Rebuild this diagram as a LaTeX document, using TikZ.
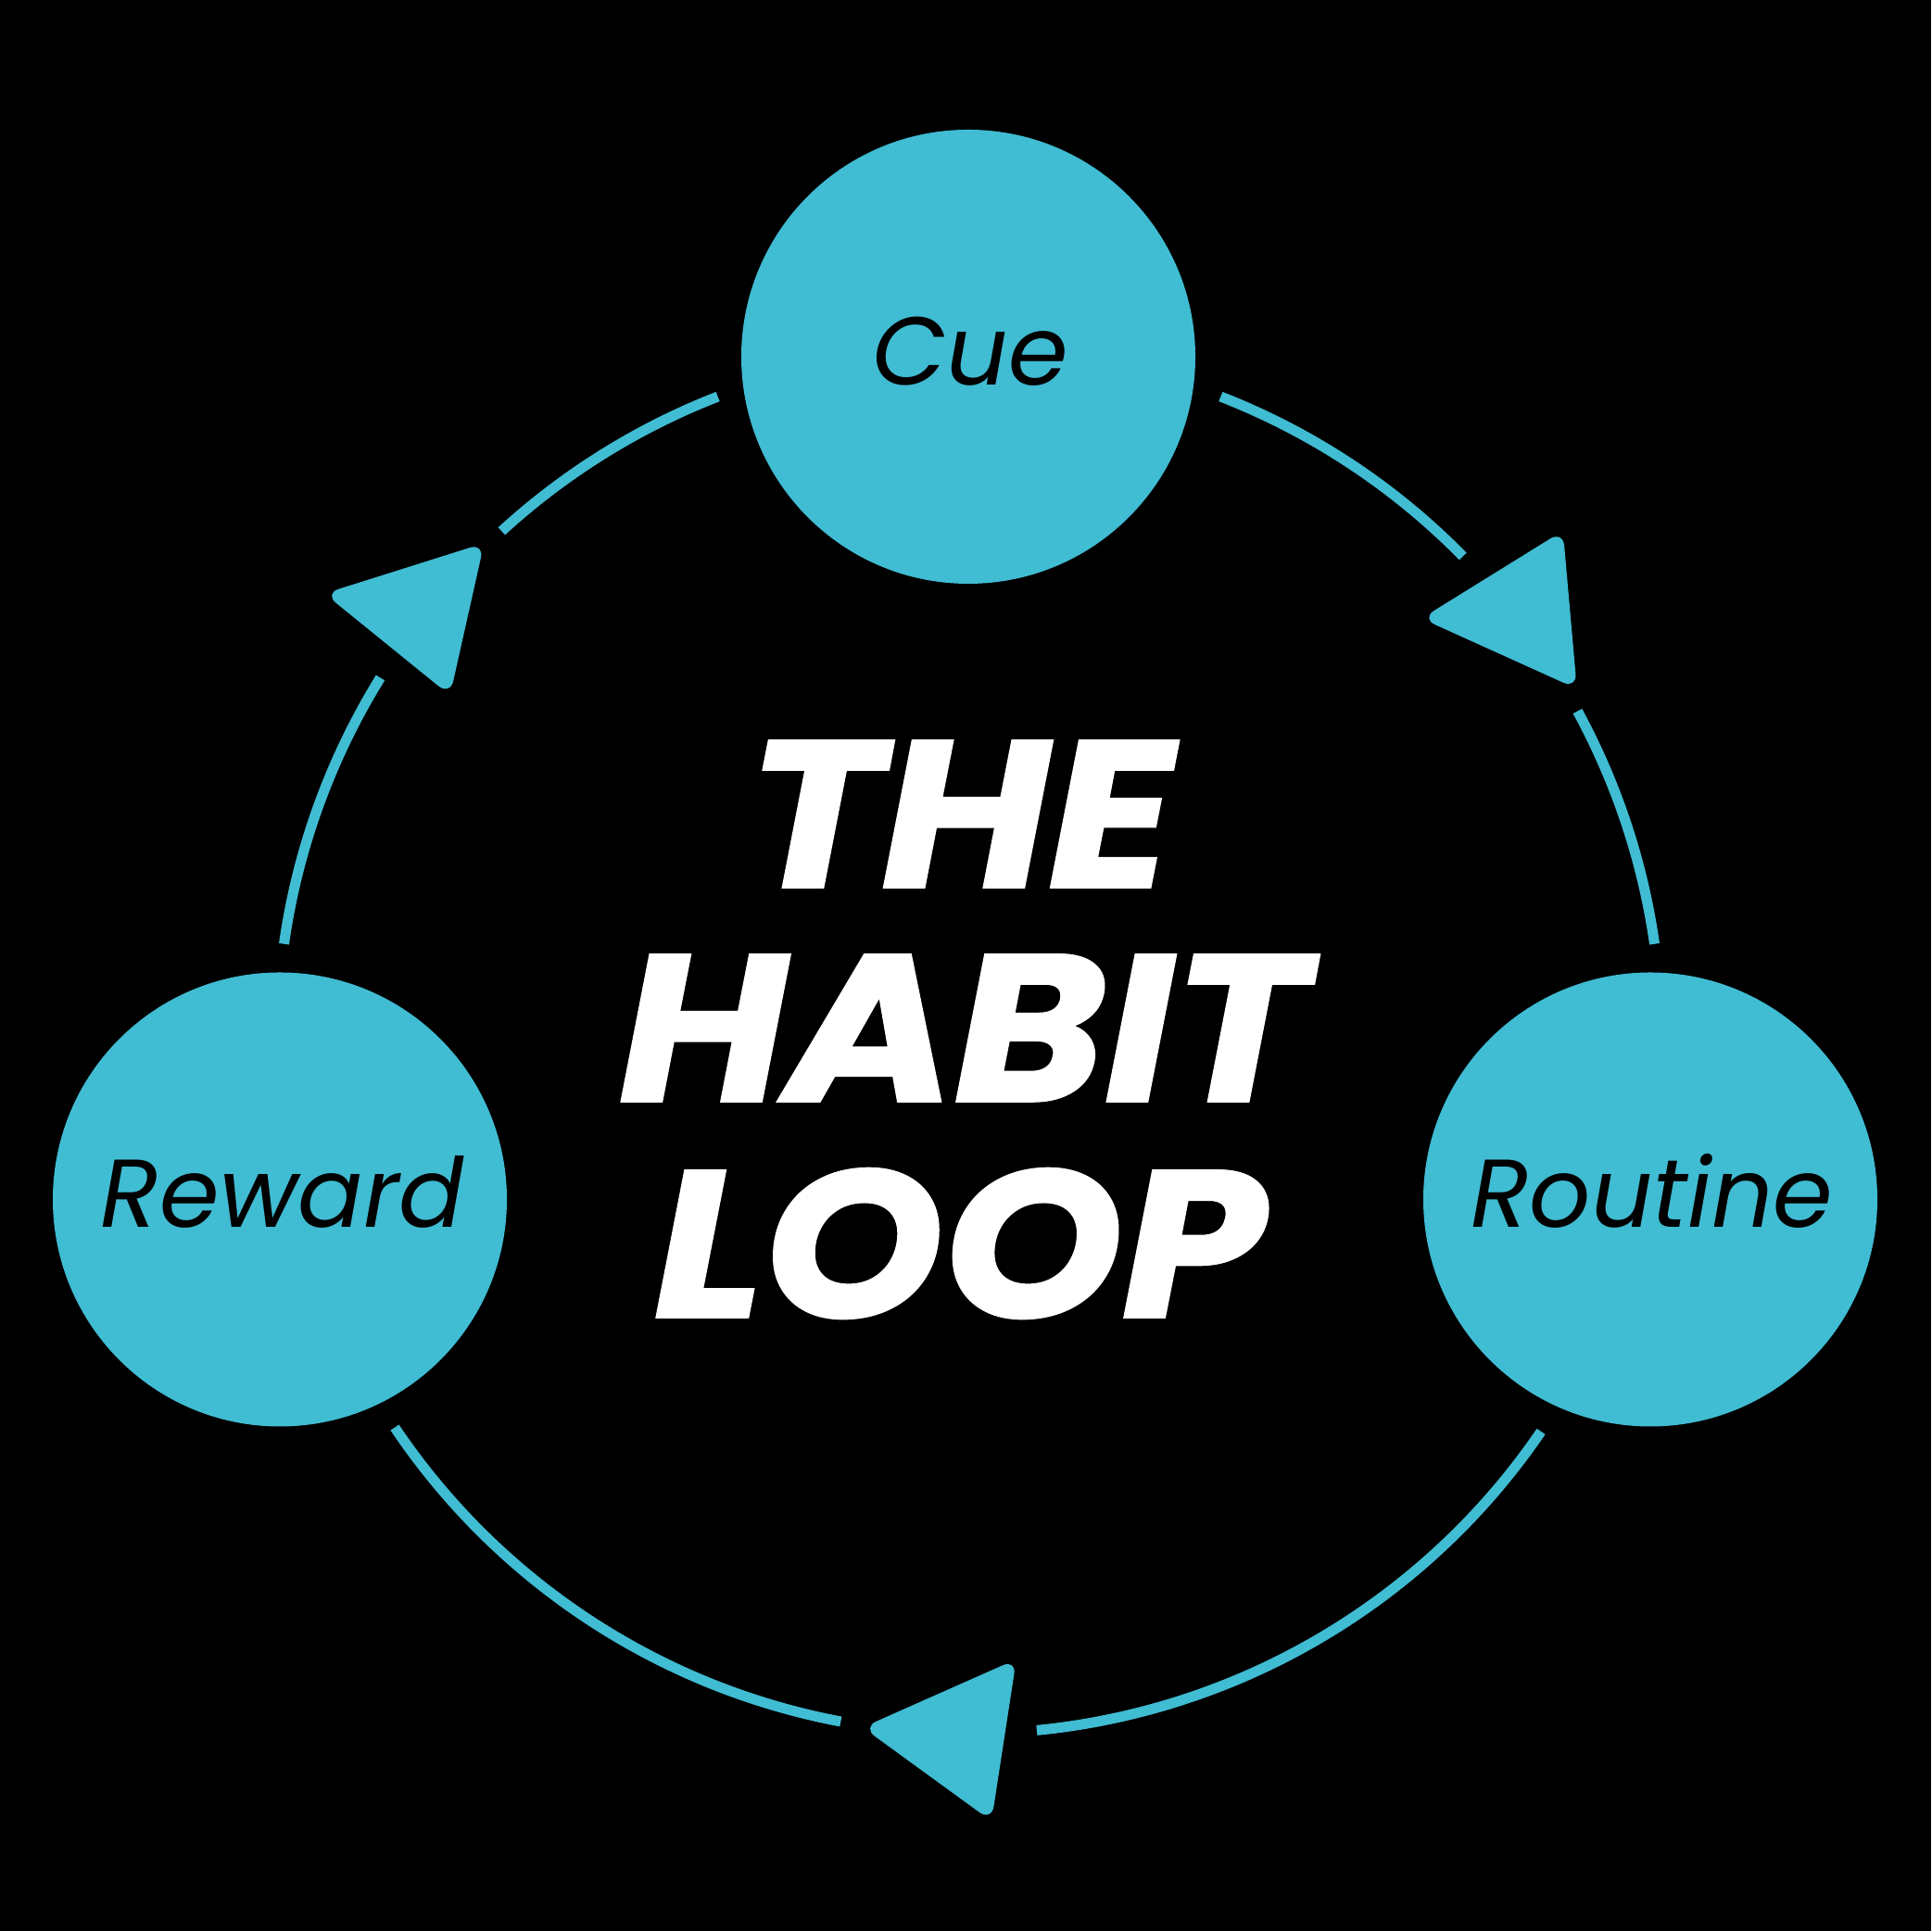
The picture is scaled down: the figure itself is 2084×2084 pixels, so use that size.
\documentclass[tikz,border=0pt]{standalone}
\usepackage{fontspec}
\setmainfont{Poppins}
\newfontfamily\titlefont[BoldItalicFeatures={FakeBold=1.6,FakeStretch=1.10}]{Poppins}
\usetikzlibrary{calc}
\definecolor{loopcyan}{RGB}{64,188,211}
\begin{document}
\begin{tikzpicture}[x=1pt,y=1pt,
  stage/.style={circle,fill=loopcyan,draw=none,minimum size=490pt,inner sep=0pt},
  lbl/.style={text=black,font=\fontsize{104}{110}\selectfont\itshape,inner sep=0pt,anchor=base},
  ttl/.style={text=white,font=\titlefont\fontsize{224}{230}\selectfont\bfseries\itshape,inner sep=0pt,anchor=base},
  looparc/.style={draw=loopcyan,line width=11pt},
  tip/.style={fill=loopcyan,rounded corners=16pt}]
\fill[black] (0,0) rectangle (2084,2084);
\useasboundingbox (0,0) rectangle (2084,2084);
% loop centre
\coordinate (o) at (1046,960);
% stages
\node[stage] (cue) at (1045,1699) {};
\node[stage] (reward) at (302,789.5) {};
\node[stage] (routine) at (1781,789.5) {};
\node[lbl] (cuet) at (1047,1668) {Cue};
\node[lbl] (rewardt) at (305,759) {Reward};
\node[lbl] (routinet) at (1783,759) {Routine};
% arcs
\draw[looparc] (o) ++(111.3:747) arc[start angle=111.3,end angle=132.5,radius=747];
\draw[looparc] (o) ++(148.3:747) arc[start angle=148.3,end angle=171.9,radius=747];
\draw[looparc] (o) ++(68.7:747) arc[start angle=68.7,end angle=44.5,radius=747];
\draw[looparc] (o) ++(28.5:747) arc[start angle=28.5,end angle=8.1,radius=747];
\draw[looparc] (o) ++(-34.3:747) arc[start angle=-34.3,end angle=-84.4,radius=747];
\draw[looparc] (o) ++(-100.7:747) arc[start angle=-100.7,end angle=-146.1,radius=747];
% arrow heads
\fill[tip] (350.1,1443.4) -- (522.5,1497.8) -- (485.7,1333.5) -- cycle;
\fill[tip] (1534,1416.5) -- (1686.7,1511.1) -- (1701.8,1340.6) -- cycle;
\fill[tip] (931,219.7) -- (1096.9,293.3) -- (1070,118.6) -- cycle;
% title
\node[ttl] (t1) at (1036,1127) {THE};
\node[ttl] (t2) at (1040,896) {HABIT};
\node[ttl] (t3) at (1036,663) {LOOP};
\end{tikzpicture}
\end{document}
